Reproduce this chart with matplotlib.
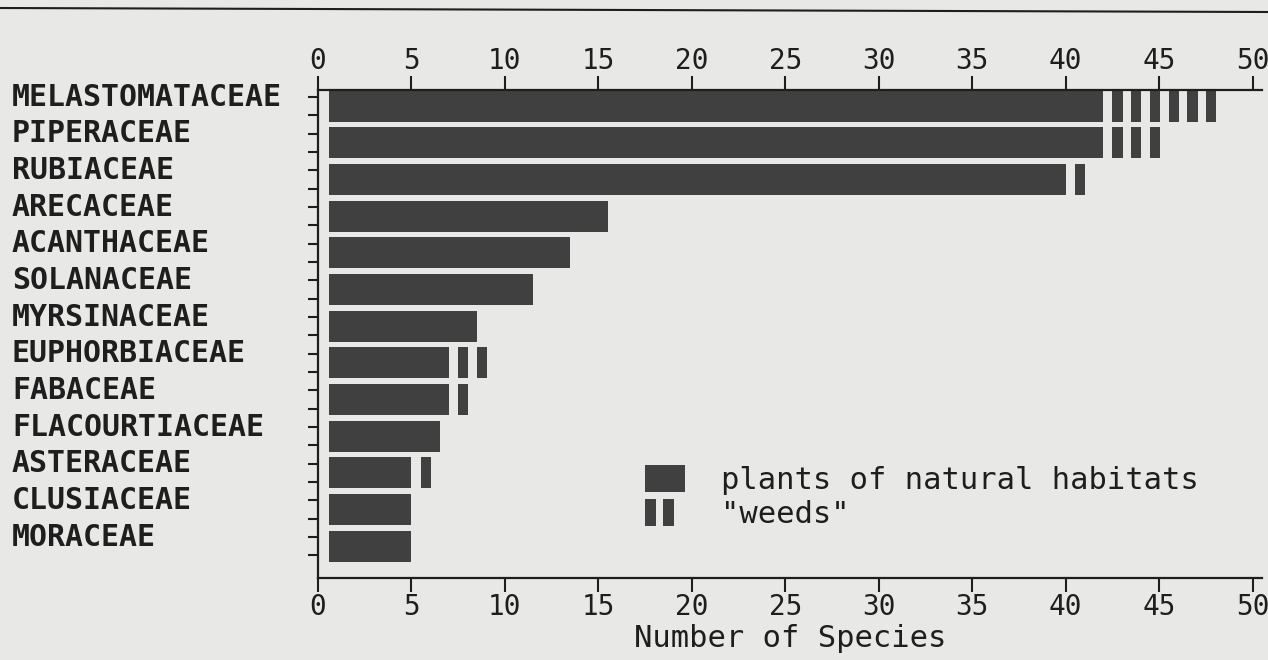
import numpy as np
import matplotlib
matplotlib.use("Agg")
import matplotlib.pyplot as plt
import matplotlib.transforms as mtransforms
from matplotlib.lines import Line2D
from matplotlib.patches import Patch, Rectangle
from matplotlib.legend_handler import HandlerBase

families = ["MELASTOMATACEAE", "PIPERACEAE", "RUBIACEAE", "ARECACEAE",
            "ACANTHACEAE", "SOLANACEAE", "MYRSINACEAE", "EUPHORBIACEAE",
            "FABACEAE", "FLACOURTIACEAE", "ASTERACEAE", "CLUSIACEAE", "MORACEAE"]
natural = [42, 42, 40, 15.5, 13.5, 11.5, 8.5, 7, 7, 6.5, 5, 5, 5]
weeds = [6, 3, 1, 0, 0, 0, 0, 2, 1, 0, 1, 0, 0]
xticks = [0, 5, 10, 15, 20, 25, 30, 35, 40, 45, 50]

paper = "#e8e8e6"
ink = "#404040"
dark = "#1e1e1e"
mono = "DejaVu Sans Mono"


class HandlerWeeds(HandlerBase):
    # two thin separate blocks, like the weed marks on the bars
    def create_artists(self, legend, orig_handle, xdescent, ydescent,
                       width, height, fontsize, trans):
        w = width * 0.27
        gap = width * 0.18
        return [Rectangle((-xdescent + k * (w + gap), -ydescent), w, height,
                          facecolor=ink, edgecolor="none", transform=trans)
                for k in range(2)]


fig = plt.figure(figsize=(12.68, 6.6), dpi=100, facecolor=paper)
ax = fig.add_axes([318 / 1268, 1 - 578 / 660, 944 / 1268, 488 / 660])
ax.set_facecolor(paper)

y = np.arange(len(families))
bar_h = 0.85
bar_start = 0.6

# natural-habitat species as one solid bar per family
ax.barh(y, np.array(natural) - bar_start, left=bar_start, height=bar_h,
        color=ink, edgecolor="none")

# each weed species gets its own narrow block after the main bar
wy, wleft = [], []
for i, (n, w) in enumerate(zip(natural, weeds)):
    for k in range(1, w + 1):
        wy.append(i)
        wleft.append(n + k - 0.5)
ax.barh(wy, [0.55] * len(wy), left=wleft, height=bar_h, color=ink,
        edgecolor="none")

ax.set_xlim(0, 50.5)
ax.set_ylim(len(families) - 0.13, -0.44)

for side in ("top", "bottom", "left"):
    ax.spines[side].set_linewidth(1.6)
    ax.spines[side].set_color(dark)
ax.spines["right"].set_visible(False)

ax.set_xticks(xticks)
ax.tick_params(axis="x", which="both", top=True, labeltop=True,
               direction="out", length=10, width=1.5, color=dark,
               labelcolor=dark, labelsize=20, pad=1)
for t in ax.xaxis.get_major_ticks():
    t.label1.set_fontfamily(mono)
    t.label2.set_fontfamily(mono)

ax.set_yticks([])
ax.set_yticks(np.concatenate([y - 0.25, y + 0.25]), minor=True)
ax.tick_params(axis="y", which="minor", direction="out", length=7,
               width=1.5, color=dark, labelleft=False)

ax.set_xlabel("Number of Species", fontsize=22, family=mono,
              color=dark, labelpad=2)

# family names, left aligned at the page margin
name_tr = mtransforms.blended_transform_factory(fig.transFigure, ax.transData)
name_tr = name_tr + mtransforms.ScaledTranslation(0, 0.09, fig.dpi_scale_trans)
for i, name in enumerate(families):
    ax.text(12 / 1268, i, name, transform=name_tr, ha="left", va="center",
            fontsize=21.5, fontweight="bold", family=mono, color=dark)

nat_handle = Patch(facecolor=ink, edgecolor="none")
weed_handle = Patch(facecolor=ink, edgecolor="none")
leg = ax.legend([nat_handle, weed_handle],
                ["plants of natural habitats", '"weeds"'],
                handler_map={weed_handle: HandlerWeeds()},
                loc="upper left", bbox_to_anchor=(645 / 1268, 1 - 465 / 660),
                bbox_transform=fig.transFigure, frameon=False, borderpad=0,
                borderaxespad=0, handlelength=1.3, handleheight=1.0,
                handletextpad=1.2, labelspacing=0.12,
                prop={"family": mono, "size": 22})
for t in leg.get_texts():
    t.set_color(dark)

# rule across the top of the page
fig.add_artist(Line2D([0, 1], [1 - 8 / 660, 1 - 12 / 660],
                      transform=fig.transFigure, color=dark, lw=1.5))

fig.savefig("out.png", dpi=100, facecolor=paper)
